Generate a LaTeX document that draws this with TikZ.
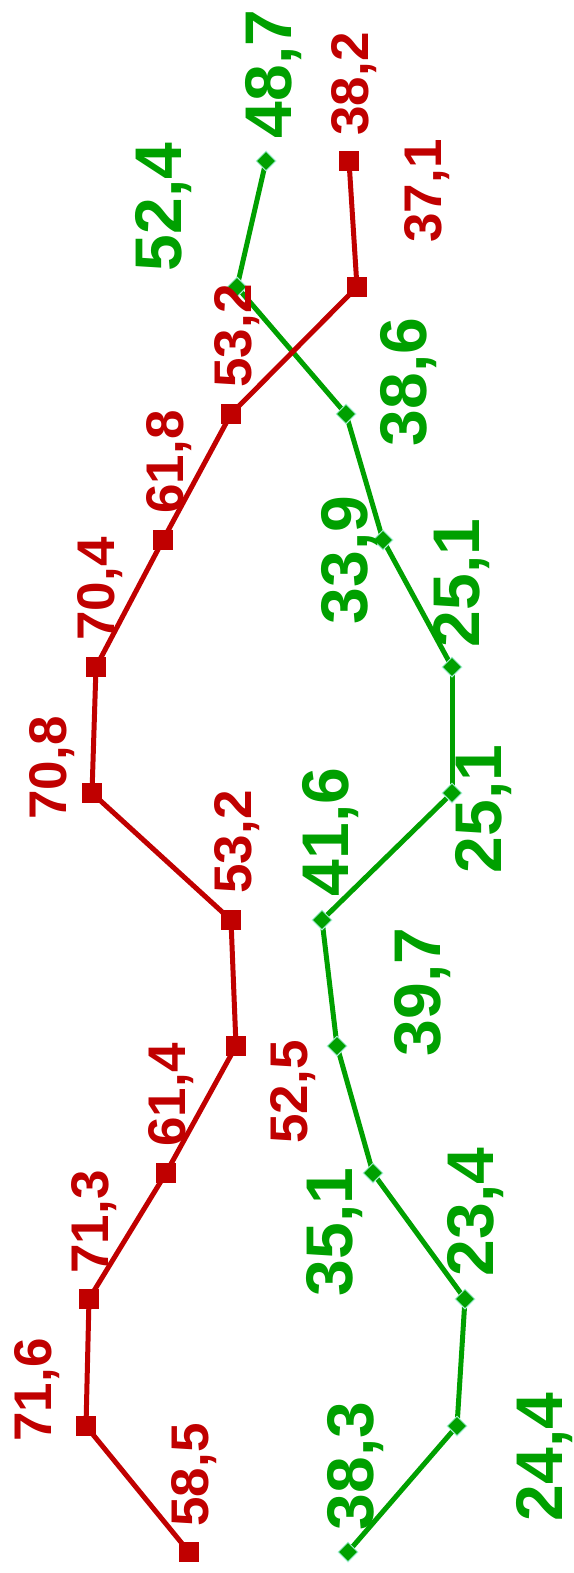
\documentclass[tikz,border=0pt]{standalone}
\usepackage{fontspec}
\setmainfont{Liberation Sans}
\usepackage{tikz}
\usetikzlibrary{shapes.geometric}
\definecolor{darkred}{HTML}{C00000}
\definecolor{midgreen}{HTML}{00A000}
\definecolor{mint}{HTML}{A8F0D8}
\pgfdeclarelayer{lines}
\pgfsetlayers{lines,main}

\begin{document}
\begin{tikzpicture}[x=1pt,y=-1pt,
  redpt/.style={rectangle,fill=darkred,minimum size=20pt,inner sep=0pt},
  greenpt/.style={diamond,fill=midgreen,draw=mint,line width=1pt,minimum size=20pt,inner sep=0pt},
  redlab/.style={rotate=90,text=darkred,inner sep=0pt,text depth=0pt,font=\bfseries\fontsize{53}{60}\selectfont},
  greenlab/.style={rotate=90,text=midgreen,inner sep=0pt,text depth=0pt,font=\bfseries\fontsize{66}{75}\selectfont}]
\useasboundingbox (0,0) rectangle (573,1573);

% Green series
\foreach \pos/\name in {{(266,161)/g0}, {(237,287)/g1}, {(346,414)/g2}, {(383,540)/g3}, {(452,667)/g4}, {(452,793)/g5}, {(322,920)/g6}, {(337,1046)/g7}, {(373,1173)/g8}, {(465,1299)/g9}, {(457,1426)/g10}, {(348,1552)/g11}}
\node[greenpt] (\name) at \pos {};

\begin{pgfonlayer}{lines}
\foreach \source/ \dest in {g0/g1, g1/g2, g2/g3, g3/g4, g4/g5, g5/g6, g6/g7, g7/g8, g8/g9, g9/g10, g10/g11}
\path[draw,midgreen,line width=5pt] (\source.center) -- (\dest.center);
\end{pgfonlayer}

% Red series
\foreach \pos/\name in {{(349,161)/r0}, {(357,287)/r1}, {(231,414)/r2}, {(163,540)/r3}, {(96,667)/r4}, {(92,793)/r5}, {(231,920)/r6}, {(236,1046)/r7}, {(166,1173)/r8}, {(89,1299)/r9}, {(86,1426)/r10}, {(189,1552)/r11}}
\node[redpt] (\name) at \pos {};

\begin{pgfonlayer}{lines}
\foreach \source/ \dest in {r0/r1, r1/r2, r2/r3, r3/r4, r4/r5, r5/r6, r6/r7, r7/r8, r8/r9, r9/r10, r10/r11}
\path[draw,darkred,line width=5pt] (\source.center) -- (\dest.center);
\end{pgfonlayer}

% Value labels
\foreach \pos/\name/\disp in {{(268,74)/g0l/48,7}, {(158,207)/g1l/52,4}, {(403,382)/g2l/38,6}, {(344,560)/g3l/33,9}, {(456,583)/g4l/25,1}, {(478,809)/g5l/25,1}, {(325,832)/g6l/41,6}, {(417,992)/g7l/39,7}, {(329,1232)/g8l/35,1}, {(470,1212)/g9l/23,4}, {(539,1457)/g10l/24,4}, {(350,1466)/g11l/38,3}}
\node[greenlab] (\name) at \pos {\disp};

\foreach \pos/\name/\disp in {{(350,84)/r0l/38,2}, {(423,191)/r1l/37,1}, {(233,336)/r2l/53,2}, {(165,462)/r3l/61,8}, {(96,589)/r4l/70,4}, {(48,768)/r5l/70,8}, {(233,842)/r6l/53,2}, {(289,1092)/r7l/52,5}, {(167,1095)/r8l/61,4}, {(90,1222)/r9l/71,3}, {(33,1390)/r10l/71,6}, {(190,1475)/r11l/58,5}}
\node[redlab] (\name) at \pos {\disp};

\end{tikzpicture}
\end{document}
